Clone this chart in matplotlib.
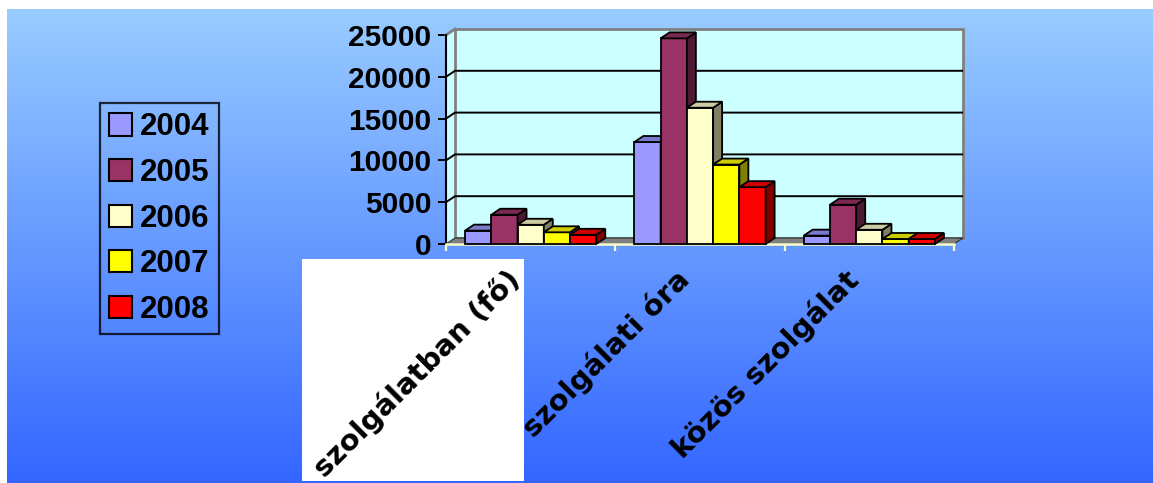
import matplotlib
matplotlib.use("Agg")
import matplotlib.pyplot as plt
import numpy as np
from matplotlib.patches import Polygon, Rectangle, Patch
from matplotlib.transforms import offset_copy
from matplotlib.colors import to_rgb

# ---- data ----
categories = ["szolgálatban (fő)", "szolgálati óra", "közös szolgálat"]
years = ["2004", "2005", "2006", "2007", "2008"]
values_2004 = [1600, 12200, 1000]
values_2005 = [3500, 24600, 4700]
values_2006 = [2300, 16300, 1700]
values_2007 = [1400, 9500, 600]
values_2008 = [1100, 6800, 600]
series = [values_2004, values_2005, values_2006, values_2007, values_2008]
colors = ["#9999FF", "#993366", "#FFFFCC", "#FFFF00", "#FF0000"]
yticks = [0, 5000, 10000, 15000, 20000, 25000]
ytick_labels = ["0", "5000", "10000", "15000", "20000", "25000"]

W, H = 1153, 483
fig = plt.figure(figsize=(W / 100, H / 100), dpi=100)
fig.patch.set_facecolor("white")

# ---- gradient background ----
bg = fig.add_axes([7 / W, 0, 1 - 7 / W, (H - 9) / H])
bg.set_zorder(-5)
top_c = np.array(to_rgb("#99CCFF"))
bot_c = np.array(to_rgb("#3366FF"))
t = np.linspace(0, 1, 256)[:, None]
grad = top_c * (1 - t) + bot_c * t
bg.imshow(grad[:, None, :], aspect="auto", extent=[0, 1, 0, 1], origin="upper")
bg.set_axis_off()

# white box behind first category label
fig.add_artist(Rectangle((302 / W, (H - 481) / H), 222 / W, 222 / H,
                         transform=fig.transFigure, facecolor="white",
                         edgecolor="none", zorder=-2))

# ---- main axes (front plane) ----
ax = fig.add_axes([446 / W, (H - 244) / H, (954 - 446) / W, (244 - 35) / H])
ax.set_xlim(-0.5, 2.5)
ax.set_ylim(0, 25000)
ax.patch.set_alpha(0)

# depth offset (9 px right, 6 px up) converted into data units
p0 = ax.transData.transform((0, 0))
inv = ax.transData.inverted()
dx, dy = inv.transform(p0 + np.array([9.0, 6.0]))

x0, x1 = ax.get_xlim()
ymax = ax.get_ylim()[1]
wall_c = "#CCFFFF"
grey = "#808080"

# side wall
ax.add_patch(Polygon([(x0, 0), (x0 + dx, dy), (x0 + dx, ymax + dy), (x0, ymax)],
                     closed=True, facecolor=wall_c, edgecolor="none",
                     zorder=1, clip_on=False))
# back wall
ax.add_patch(Rectangle((x0 + dx, dy), x1 - x0, ymax, facecolor=wall_c,
                       edgecolor=grey, lw=2, zorder=1.1, clip_on=False))
# floor
ax.add_patch(Polygon([(x0, 0), (x1, 0), (x1 + dx, dy), (x0 + dx, dy)],
                     closed=True, facecolor=grey, edgecolor="#303030", lw=0.8,
                     zorder=1.5, clip_on=False))
# gridlines
for v in yticks[1:-1]:
    ax.plot([x0, x0 + dx, x1 + dx], [v, v + dy, v + dy], color="black",
            lw=1.4, zorder=1.6, clip_on=False, solid_capstyle="butt")
ax.plot([x0, x0 + dx], [ymax, ymax + dy], color=grey, lw=2, zorder=1.6,
        clip_on=False)

# ---- 3D bars ----
bw = 0.155
n = len(series)
z = 3.0
for i in range(len(categories)):
    for j, (vals, c) in enumerate(zip(series, colors)):
        v = vals[i]
        xc = i + (j - (n - 1) / 2) * bw
        bars = ax.bar(xc, v, width=bw, color=c, edgecolor="black", lw=1.3,
                      zorder=z, clip_on=False)
        r = bars[0]
        xl = r.get_x()
        xr = xl + r.get_width()
        h = r.get_height()
        rgb = np.array(to_rgb(c))
        top = Polygon([(xl, h), (xr, h), (xr + dx, h + dy), (xl + dx, h + dy)],
                      closed=True, facecolor=rgb * 0.8, edgecolor="black",
                      lw=1.3, zorder=z + 0.01, clip_on=False)
        side = Polygon([(xr, 0), (xr + dx, dy), (xr + dx, h + dy), (xr, h)],
                       closed=True, facecolor=rgb * 0.5, edgecolor="black",
                       lw=1.3, zorder=z + 0.01, clip_on=False)
        ax.add_patch(side)
        ax.add_patch(top)
        z += 0.1

# ---- axes styling ----
for s in ["top", "right"]:
    ax.spines[s].set_visible(False)
ax.spines["left"].set_color("black")
ax.spines["left"].set_linewidth(1.5)
ax.spines["left"].set_zorder(2)
ax.spines["bottom"].set_color("#FFFFCC")
ax.spines["bottom"].set_linewidth(1.8)
ax.spines["bottom"].set_zorder(2)

ax.set_yticks(yticks)
ax.set_yticklabels(ytick_labels, fontfamily="Liberation Sans",
                   fontweight="bold", fontsize=21.5)
ax.tick_params(axis="y", direction="out", length=5.5, width=1.4,
               color="black", pad=5)
ax.set_xticks([x0 + k for k in range(len(categories) + 1)])
ax.set_xticklabels([])
ax.tick_params(axis="x", direction="out", length=5, width=1.6,
               color="#FFFFCC")

lab_tr = offset_copy(ax.get_xaxis_transform(), fig=fig, x=-25, y=-21,
                     units="dots")
for i, cat in enumerate(categories):
    ax.text(i, 0, cat, transform=lab_tr, rotation=45, rotation_mode="anchor",
            ha="right", va="top", fontsize=21, fontweight="bold",
            fontfamily="DejaVu Sans", zorder=10)

# ---- legend ----
handles = [Patch(facecolor=c, edgecolor="black", lw=1.5) for c in colors]
leg = fig.legend(handles, years, loc="upper left",
                 bbox_to_anchor=(100 / W, 1 - 103 / H),
                 bbox_transform=fig.transFigure, frameon=True, fancybox=False,
                 prop=dict(family="Liberation Sans", weight="bold", size=22.5),
                 handlelength=0.72, handleheight=0.72, handletextpad=0.25,
                 labelspacing=0.5, borderpad=0.3, borderaxespad=0)
fr = leg.get_frame()
fr.set_facecolor("none")
fr.set_edgecolor("black")
fr.set_linewidth(1.6)

fig.savefig("out.png", dpi=100)
